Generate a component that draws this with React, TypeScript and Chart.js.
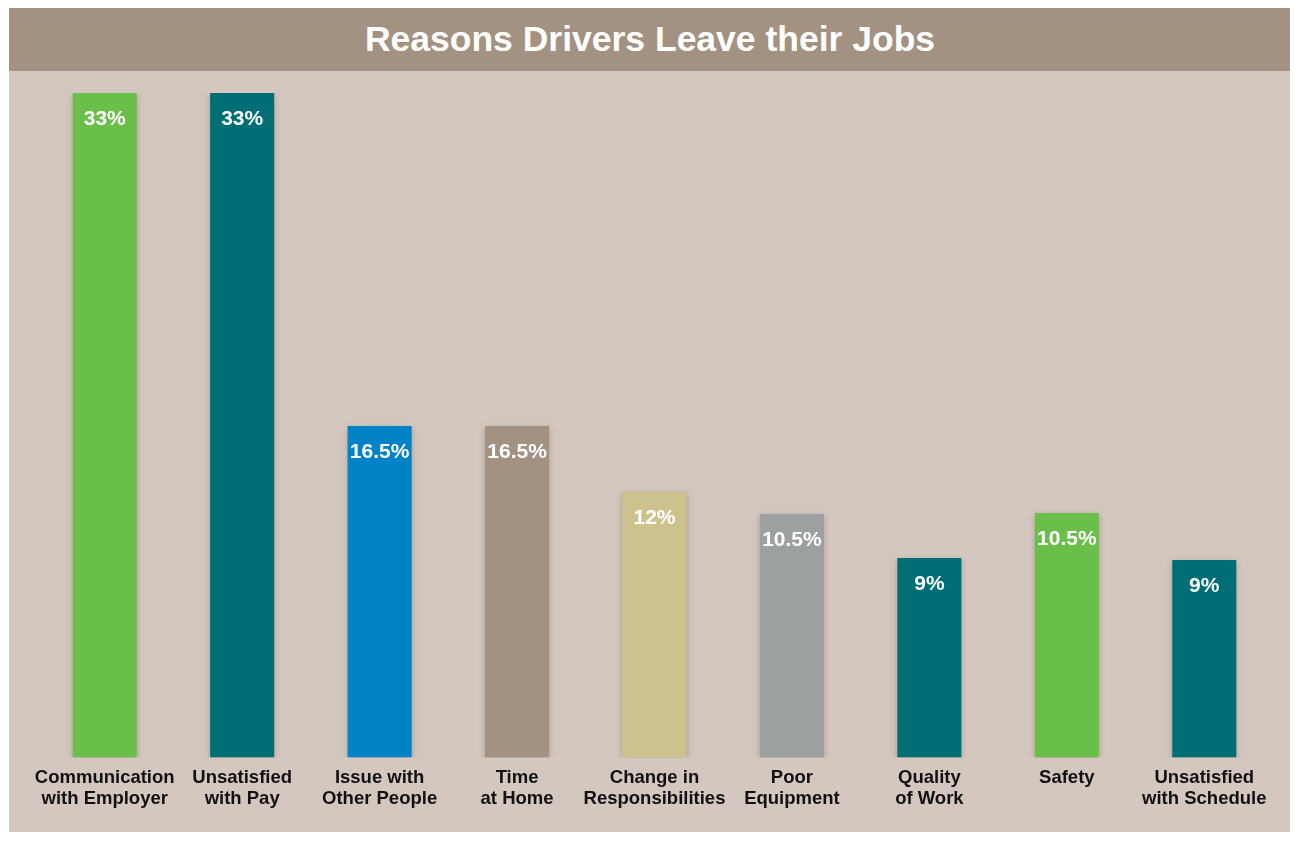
import React, { useEffect, useRef } from "react";
import { Chart, registerables } from "chart.js";

Chart.register(...registerables);

const titleText = "Reasons Drivers Leave their Jobs";

const categories: string[][] = [
  ["Communication", "with Employer"],
  ["Unsatisfied", "with Pay"],
  ["Issue with", "Other People"],
  ["Time", "at Home"],
  ["Change in", "Responsibilities"],
  ["Poor", "Equipment"],
  ["Quality", "of Work"],
  ["Safety"],
  ["Unsatisfied", "with Schedule"],
];

// bar heights as drawn in the picture
const barValues: number[] = [33, 33, 16.46, 16.46, 13.19, 12.09, 9.91, 12.14, 9.81];

// printed value labels
const valueLabels: string[] = ["33%", "33%", "16.5%", "16.5%", "12%", "10.5%", "9%", "10.5%", "9%"];

const barColors: string[] = [
  "#6abf4b",
  "#006f75",
  "#0082c8",
  "#a39282",
  "#cdc28e",
  "#9da0a1",
  "#006f75",
  "#6abf4b",
  "#006f75",
];

const FONT = "'Liberation Sans', Arial, Helvetica, sans-serif";

const shadowPlugin = {
  id: "barShadow",
  beforeDatasetsDraw(chart: any) {
    const ctx = chart.ctx;
    ctx.save();
    ctx.shadowColor = "rgba(60,40,30,0.28)";
    ctx.shadowBlur = 6;
    ctx.shadowOffsetX = 0;
    ctx.shadowOffsetY = 2;
  },
  afterDatasetsDraw(chart: any) {
    chart.ctx.restore();
  },
};

const valueLabelPlugin = {
  id: "valueLabels",
  afterDraw(chart: any) {
    const ctx = chart.ctx;
    const meta = chart.getDatasetMeta(0);
    ctx.save();
    ctx.fillStyle = "#ffffff";
    ctx.font = `bold 21px ${FONT}`;
    ctx.textAlign = "center";
    ctx.textBaseline = "middle";
    meta.data.forEach((bar: any, i: number) => {
      ctx.fillText(valueLabels[i], bar.x, bar.y + 26);
    });
    ctx.restore();
  },
};

export default function App() {
  const canvasRef = useRef<HTMLCanvasElement | null>(null);

  useEffect(() => {
    if (!canvasRef.current) return;
    const chart = new Chart(canvasRef.current, {
      type: "bar",
      data: {
        labels: categories,
        datasets: [
          {
            data: barValues,
            backgroundColor: barColors,
            borderWidth: 0,
            barPercentage: 0.466,
            categoryPercentage: 1,
          },
        ],
      },
      options: {
        animation: false,
        responsive: true,
        maintainAspectRatio: false,
        layout: { padding: { left: 27, right: 18, top: 22, bottom: 12.5 } },
        plugins: {
          legend: { display: false },
          tooltip: { enabled: false },
          title: { display: false },
        },
        scales: {
          y: {
            display: false,
            min: 0,
            max: 33,
          },
          x: {
            grid: { display: false, drawTicks: false },
            border: { display: false },
            ticks: {
              color: "#111111",
              font: { family: FONT, size: 18.5, weight: "bold", lineHeight: 1.16 },
              padding: 9.5,
              autoSkip: false,
              maxRotation: 0,
              minRotation: 0,
            },
          },
        },
      },
      plugins: [shadowPlugin, valueLabelPlugin],
    });
    return () => chart.destroy();
  }, []);

  return (
    <div style={{ marginLeft: 1, width: 1282 }}>
      <div
        style={{
          height: 63,
          background: "#a39282",
          color: "#ffffff",
          fontFamily: FONT,
          fontWeight: "bold",
          fontSize: 35.5,
          display: "flex",
          alignItems: "center",
          justifyContent: "center",
        }}
      >
        {titleText}
      </div>
      <div style={{ position: "relative", height: 761, background: "#d4c7bf" }}>
        <canvas ref={canvasRef} />
      </div>
    </div>
  );
}
